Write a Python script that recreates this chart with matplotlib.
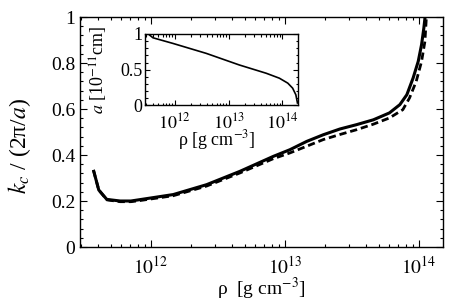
import numpy as np
import matplotlib
matplotlib.use("Agg")
import matplotlib.pyplot as plt
from matplotlib.ticker import MultipleLocator, FixedLocator, FixedFormatter, LogLocator, NullFormatter

plt.rcParams['font.family'] = ['Liberation Serif', 'DejaVu Serif']
plt.rcParams['mathtext.fontset'] = 'stix'

# --- data (log10 of density in g cm^-3) ---
logrho_solid = [11.57, 11.61, 11.67, 11.77, 11.85, 11.918, 12.166, 12.415, 12.664, 12.913,
                13.037, 13.162, 13.286, 13.41, 13.535, 13.66, 13.78, 13.858, 13.91,
                13.957, 13.995, 14.02, 14.037, 14.05]
kc_solid = [0.335, 0.248, 0.207, 0.200, 0.200, 0.206, 0.228, 0.271, 0.329, 0.394,
            0.423, 0.459, 0.488, 0.513, 0.532, 0.553, 0.583, 0.619, 0.662,
            0.735, 0.807, 0.88, 0.952, 1.02]

logrho_dashed = [11.57, 11.61, 11.67, 11.77, 11.85, 11.918, 12.166, 12.415, 12.664, 12.913,
                 13.037, 13.162, 13.286, 13.41, 13.535, 13.66, 13.78, 13.88, 13.93,
                 13.98, 14.02, 14.045, 14.058]
kc_dashed = [0.335, 0.248, 0.205, 0.197, 0.197, 0.202, 0.223, 0.265, 0.322, 0.384,
             0.409, 0.438, 0.467, 0.489, 0.51, 0.534, 0.561, 0.597, 0.648,
             0.72, 0.807, 0.894, 1.02]

logrho_inset = [11.537, 11.598, 11.97, 12.587, 13.2, 13.70, 13.944, 14.1, 14.19, 14.25, 14.28]
a_inset = [0.984, 0.947, 0.868, 0.729, 0.567, 0.451, 0.382, 0.313, 0.243, 0.15, 0.035]

main_yticks = [0, 0.2, 0.4, 0.6, 0.8, 1]
main_yticklabels = ['0', '0.2', '0.4', '0.6', '0.8', '1']
xticks = [1e12, 1e13, 1e14]
xticklabels = [r'$10^{12}$', r'$10^{13}$', r'$10^{14}$']
inset_yticks = [0, 0.5, 1]
inset_yticklabels = ['0', '0.5', '1']

W, H = 457, 308
fig = plt.figure(figsize=(W / 100, H / 100), dpi=100)

def style(ax, fs, major, minor):
    ax.tick_params(which='both', direction='in', top=True, right=True, width=0.8)
    ax.tick_params(which='major', length=major, labelsize=fs)
    ax.tick_params(which='minor', length=minor)
    for s in ax.spines.values():
        s.set_linewidth(1.0)

# main axes
ax = fig.add_axes([80 / W, 1 - 247 / H, (443 - 80) / W, (247 - 17) / H])
ax.set_xscale('log')
ax.plot(10 ** np.array(logrho_solid), kc_solid, color='black', lw=2.2, solid_capstyle='butt')
ax.plot(10 ** np.array(logrho_dashed), kc_dashed, color='black', lw=2.0, dashes=(2.6, 1.4))
ax.set_xlim(10 ** 11.47, 10 ** 14.18)
ax.set_ylim(0, 1)
ax.yaxis.set_major_locator(FixedLocator(main_yticks))
ax.yaxis.set_major_formatter(FixedFormatter(main_yticklabels))
ax.yaxis.set_minor_locator(MultipleLocator(0.04))
ax.xaxis.set_major_locator(FixedLocator(xticks))
ax.xaxis.set_major_formatter(FixedFormatter(xticklabels))
ax.xaxis.set_minor_locator(LogLocator(base=10, subs=np.arange(2, 10)))
ax.xaxis.set_minor_formatter(NullFormatter())
style(ax, 14, 5, 2.5)
ax.tick_params(axis='x', pad=6)
ax.set_xlabel('ρ  [g cm$^{-3}$]', fontsize=14)
ax.xaxis.set_label_coords(0.5, -0.125)
ax.set_ylabel(r'$k_c$ / (2π/$a$)', fontsize=17)
ax.yaxis.set_label_coords(-0.13, 0.44)

# inset
axi = fig.add_axes([145 / W, 1 - 105.5 / H, (298 - 145) / W, (105.5 - 34) / H])
axi.set_xscale('log')
axi.plot(10 ** np.array(logrho_inset), a_inset, color='black', lw=1.2)
axi.set_xlim(10 ** 11.45, 10 ** 14.29)
axi.set_ylim(0, 1)
axi.yaxis.set_major_locator(FixedLocator(inset_yticks))
axi.yaxis.set_major_formatter(FixedFormatter(inset_yticklabels))
axi.yaxis.set_minor_locator(MultipleLocator(0.1))
axi.xaxis.set_major_locator(FixedLocator(xticks))
axi.xaxis.set_major_formatter(FixedFormatter(xticklabels))
axi.xaxis.set_minor_locator(LogLocator(base=10, subs=np.arange(2, 10)))
axi.xaxis.set_minor_formatter(NullFormatter())
style(axi, 13, 3.5, 1.8)
axi.tick_params(axis='x', pad=5)
axi.tick_params(axis='y', pad=2)
axi.set_xlabel('ρ [g cm$^{-3}$]', fontsize=13)
axi.xaxis.set_label_coords(0.47, -0.32)
axi.set_ylabel(r'$a$ [10$^{-11}$cm]', fontsize=13)
axi.yaxis.set_label_coords(-0.23, 0.5)

fig.savefig('out.png', dpi=100)
